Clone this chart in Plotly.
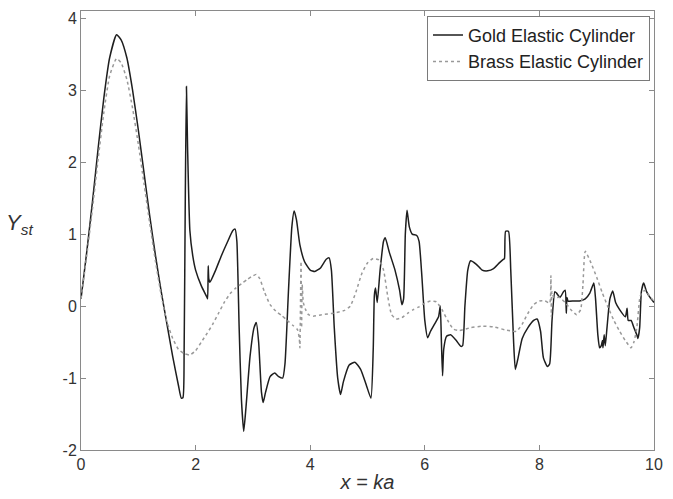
import plotly.graph_objects as go

gold_x = [0, 0.1, 0.2, 0.3, 0.4, 0.5, 0.62, 0.7, 0.8, 0.9, 1.0, 1.1, 1.2, 1.3, 1.4, 1.5, 1.6, 1.7, 1.75, 1.78,
          1.8, 1.82, 1.84, 1.86, 1.9, 1.95, 2.0, 2.1, 2.2, 2.21, 2.22, 2.23, 2.25, 2.35, 2.45, 2.55, 2.65, 2.69,
          2.72, 2.76, 2.8, 2.84, 2.88, 2.95, 3.02, 3.06, 3.1, 3.15, 3.18, 3.22, 3.3, 3.38, 3.45, 3.52, 3.56,
          3.62, 3.68, 3.72, 3.76, 3.82, 3.9, 4.0, 4.08, 4.18, 4.28, 4.33, 4.37, 4.42, 4.48, 4.53, 4.58, 4.68,
          4.78, 4.88, 4.98, 5.06, 5.1, 5.12, 5.14, 5.17, 5.22, 5.28, 5.31, 5.38, 5.48, 5.56, 5.6, 5.63, 5.66,
          5.69, 5.73, 5.78, 5.86, 5.9, 5.95, 6.0, 6.05, 6.1, 6.17, 6.24, 6.27, 6.29, 6.31, 6.33, 6.38, 6.45,
          6.55, 6.63, 6.66, 6.7, 6.75, 6.8, 6.9, 7.0, 7.1, 7.2, 7.3, 7.37, 7.39, 7.41, 7.46, 7.5, 7.55, 7.58,
          7.62, 7.7, 7.8, 7.9, 7.96, 8.02, 8.07, 8.14, 8.18, 8.22, 8.27, 8.3, 8.36, 8.42, 8.45, 8.47, 8.48,
          8.5, 8.6, 8.7, 8.8, 8.88, 8.95, 8.98, 9.02, 9.05, 9.08, 9.1, 9.11, 9.13, 9.15, 9.18, 9.23, 9.28,
          9.33, 9.4, 9.5, 9.53, 9.55, 9.6, 9.65, 9.7, 9.72, 9.75, 9.78, 9.82, 9.87, 9.93, 10.0]
gold_y = [0.1, 0.75, 1.45, 2.2, 2.9, 3.45, 3.77, 3.7, 3.45, 3.0, 2.45, 1.85, 1.25, 0.7, 0.2, -0.25, -0.7, -1.1, -1.28, -1.27,
          -0.6, 1.5, 3.05, 2.2, 1.05, 0.7, 0.5, 0.28, 0.12, 0.1, 0.56, 0.38, 0.33, 0.5, 0.7, 0.88, 1.05, 1.07,
          0.9, -0.3, -1.3, -1.74, -1.4, -0.7, -0.3, -0.23, -0.5, -1.2, -1.34, -1.2, -0.98, -0.93, -0.98, -1.0, -0.8,
          0.2, 1.1, 1.32, 1.2, 0.85, 0.62, 0.5, 0.48, 0.53, 0.65, 0.67, 0.5, -0.3, -1.0, -1.23, -1.05, -0.82,
          -0.78, -0.88, -1.1, -1.28, -0.6, 0.15, 0.25, 0.05, 0.5, 0.9, 0.95, 0.75, 0.5, 0.22, 0.02, 0.1, 1.0,
          1.33, 1.1, 1.0, 0.98, 0.9, 0.4, -0.2, -0.44, -0.35, -0.25, -0.15, 0.0, -0.5, -0.97, -0.6, -0.42, -0.4,
          -0.48, -0.56, -0.55, 0.0, 0.5, 0.63, 0.58, 0.5, 0.49, 0.52, 0.6, 0.65, 0.66, 1.04, 1.04, 0.5, -0.5, -0.88,
          -0.75, -0.45, -0.3, -0.2, -0.18, -0.35, -0.72, -0.84, -0.8, -0.2, 0.2, 0.18, 0.12, 0.2, 0.22, -0.1, 0.12,
          0.07, 0.07, 0.07, 0.1, 0.18, 0.32, 0.1, -0.4, -0.58, -0.55, -0.48, -0.58, -0.4, -0.55, -0.3, 0.1, 0.21,
          0.05, -0.05, -0.15, -0.03, -0.2, -0.2, -0.3, -0.4, -0.45, -0.3, 0.2, 0.32, 0.2, 0.12, 0.05]

brass_x = [0, 0.1, 0.2, 0.3, 0.4, 0.5, 0.62, 0.7, 0.8, 0.9, 1.0, 1.1, 1.2, 1.3, 1.4, 1.5, 1.6, 1.7, 1.8, 1.9,
           2.0, 2.1, 2.2, 2.3, 2.4, 2.5, 2.6, 2.7, 2.8, 2.9, 3.0, 3.06, 3.12, 3.2, 3.3, 3.4, 3.5, 3.6, 3.7, 3.78,
           3.81, 3.82, 3.83, 3.84, 3.85, 3.86, 3.88, 3.92, 3.97, 4.05, 4.2, 4.4, 4.6, 4.7, 4.8, 4.9, 5.0, 5.1,
           5.2, 5.28, 5.35, 5.42, 5.5, 5.6, 5.7, 5.8, 5.9, 6.0, 6.1, 6.2, 6.3, 6.4, 6.5, 6.6, 6.8, 7.0, 7.2,
           7.4, 7.6, 7.7, 7.8, 7.9, 8.0, 8.1, 8.18, 8.2, 8.21, 8.22, 8.25, 8.35, 8.45, 8.55, 8.65, 8.72, 8.76,
           8.8, 8.9, 9.0, 9.1, 9.2, 9.3, 9.4, 9.5, 9.6, 9.65, 9.7, 9.75, 9.78, 9.85, 9.92, 10.0]
brass_y = [0.1, 0.7, 1.35, 2.05, 2.7, 3.2, 3.44, 3.38, 3.15, 2.75, 2.25, 1.7, 1.15, 0.62, 0.15, -0.22, -0.45, -0.6, -0.66, -0.68,
           -0.62, -0.5, -0.38, -0.25, -0.1, 0.05, 0.17, 0.25, 0.31, 0.37, 0.42, 0.44, 0.38, 0.2, 0.02, -0.07, -0.13, -0.2, -0.27, -0.33,
           -0.45, -0.58, 0.0, 0.62, -0.3, 0.3, 0.05, -0.05, -0.12, -0.14, -0.12, -0.1, -0.06, 0.0, 0.2, 0.45, 0.6, 0.66,
           0.64, 0.5, 0.15, -0.12, -0.18, -0.16, -0.1, -0.05, -0.01, 0.04, 0.07, 0.06, -0.05, -0.2, -0.32, -0.34, -0.3, -0.28, -0.29,
           -0.33, -0.35, -0.25, -0.1, 0.02, 0.07, 0.07, 0.04, 0.42, -0.15, 0.2, 0.12, 0.12, 0.05, -0.05, -0.12, -0.05, 0.3,
           0.76, 0.6, 0.4, 0.18, -0.02, -0.2, -0.35, -0.48, -0.58, -0.5, -0.3, 0.1, 0.18, 0.22, 0.14, 0.07]

x_ticks = [0, 2, 4, 6, 8, 10]
x_tick_labels = ["0", "2", "4", "6", "8", "10"]
y_ticks = [-2, -1, 0, 1, 2, 3, 4]
y_tick_labels = ["-2", "-1", "0", "1", "2", "3", "4"]

FONT = "Liberation Sans, Arial"

fig = go.Figure()
fig.add_trace(go.Scatter(x=gold_x, y=gold_y, mode="lines", name="Gold Elastic Cylinder",
                         line=dict(color="#1e1e1e", width=1.5, shape="spline", smoothing=0.5)))
fig.add_trace(go.Scatter(x=brass_x, y=brass_y, mode="lines", name="Brass Elastic Cylinder",
                         line=dict(color="#999999", width=1.5, dash="dot", shape="spline", smoothing=0.5)))

axis_common = dict(showgrid=False, zeroline=False, showline=True, linecolor="#8a8a8a", linewidth=1,
                   mirror="ticks", ticks="inside", ticklen=5, tickcolor="#8a8a8a",
                   tickfont=dict(family=FONT, size=16, color="#333333"))

fig.update_xaxes(range=[0, 10], tickvals=x_ticks, ticktext=x_tick_labels, **axis_common,
                 title=dict(text="<i>x = ka</i>", font=dict(family=FONT, size=20, color="#333333"),
                            standoff=2))
fig.update_yaxes(range=[-2, 4.1], tickvals=y_ticks, ticktext=y_tick_labels, **axis_common)

fig.add_annotation(xref="paper", yref="paper", x=-0.08, y=0.515, xanchor="right", yanchor="middle",
                   showarrow=False, text="<i>Y</i><sub><i>st</i></sub>",
                   font=dict(family=FONT, size=22, color="#333333"))

fig.update_layout(
    width=673, height=499,
    margin=dict(l=81, r=13, t=10, b=48),
    paper_bgcolor="white", plot_bgcolor="white",
    showlegend=True,
    legend=dict(x=0.993, y=0.989, xanchor="right", yanchor="top",
                bgcolor="white", bordercolor="#7a7a7a", borderwidth=1,
                font=dict(family=FONT, size=18, color="#222222"),
                tracegroupgap=0, itemwidth=30),
)

fig.write_html("out.html")
